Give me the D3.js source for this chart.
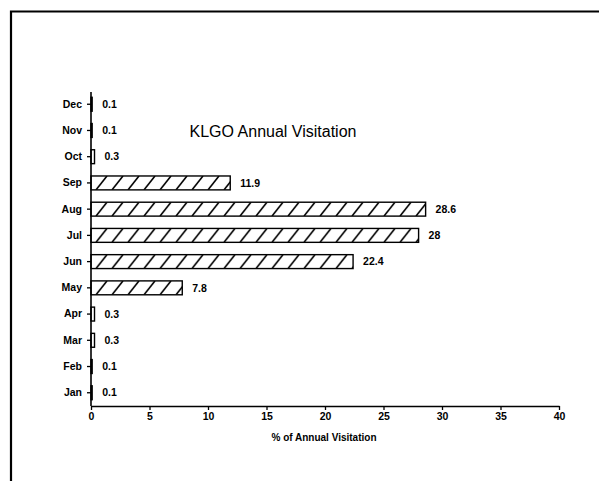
<!DOCTYPE html>
<html>
<head>
<meta charset="utf-8">
<script src="https://cdn.jsdelivr.net/npm/d3@7"></script>
<style>
  html, body { margin: 0; padding: 0; background: #fff; }
  svg { display: block; font-family: "Liberation Sans", Arial, Helvetica, sans-serif; }
</style>
</head>
<body>
<svg id="chart" width="599" height="481"></svg>
<script>
// Monthly share of annual visitation
const months = ["Jan", "Feb", "Mar", "Apr", "May", "Jun", "Jul", "Aug", "Sep", "Oct", "Nov", "Dec"];
const visitation = [0.1, 0.1, 0.3, 0.3, 7.8, 22.4, 28, 28.6, 11.9, 0.3, 0.1, 0.1];
const valueLabels = ["0.1", "0.1", "0.3", "0.3", "7.8", "22.4", "28", "28.6", "11.9", "0.3", "0.1", "0.1"];
const xTicks = [0, 5, 10, 15, 20, 25, 30, 35, 40];
const chartTitle = "KLGO Annual Visitation";
const xTitle = "% of Annual Visitation";

const rows = months.map((m, i) => ({ month: m, value: visitation[i], label: valueLabels[i], idx: i }));

const svg = d3.select("#chart");

// page frame (top and left rules)
svg.append("path")
  .attr("d", "M11,481 V11.5 H599")
  .attr("fill", "none")
  .attr("stroke", "#000")
  .attr("stroke-width", 2.2);

const x = d3.scaleLinear().domain([0, 40]).range([91, 559]);
const y = d3.scaleBand()
  .domain(months.slice().reverse())
  .range([91, 406])
  .paddingInner(0.47)
  .paddingOuter(0.24);

// diagonal hatch fill, one tile row per bar so every stroke spans the bar height
const defs = svg.append("defs");
const bh = y.bandwidth();
rows.forEach(d => {
  const p = defs.append("pattern")
    .attr("id", "hatch" + d.idx)
    .attr("patternUnits", "userSpaceOnUse")
    .attr("width", 16)
    .attr("height", bh)
    .attr("x", x(0) + 3)
    .attr("y", y(d.month));
  p.append("line")
    .attr("x1", 2).attr("y1", bh)
    .attr("x2", 13).attr("y2", 0)
    .attr("stroke", "#000")
    .attr("stroke-width", 1.6);
});

// bars
svg.append("g")
  .selectAll("rect")
  .data(rows)
  .join("rect")
  .attr("x", x(0))
  .attr("y", d => y(d.month))
  .attr("width", d => Math.max(0.5, x(d.value) - x(0)))
  .attr("height", bh)
  .attr("fill", d => `url(#hatch${d.idx})`)
  .attr("stroke", "#000")
  .attr("stroke-width", 1.4);

// value labels
svg.append("g")
  .selectAll("text")
  .data(rows)
  .join("text")
  .attr("x", d => x(d.value) + 10)
  .attr("y", d => y(d.month) + bh / 2)
  .attr("dy", "0.35em")
  .attr("font-size", 10.5)
  .attr("font-weight", "bold")
  .attr("fill", "#000")
  .text(d => d.label);

// axes
const yAxis = d3.axisLeft(y).tickSize(4).tickPadding(5);
const gy = svg.append("g")
  .attr("transform", `translate(${x(0)},0)`)
  .call(yAxis);
gy.select(".domain").attr("d", "M0,92V406").attr("stroke-width", 1.6);
gy.selectAll("text").attr("font-size", 10.5).attr("font-weight", "bold").attr("font-family", "Liberation Sans, Arial, sans-serif");
gy.selectAll(".tick line").attr("stroke-width", 1.3);

const xAxis = d3.axisBottom(x).tickValues(xTicks).tickSize(4).tickSizeOuter(0).tickPadding(3);
const gx = svg.append("g")
  .attr("transform", "translate(0,406)")
  .call(xAxis);
gx.select(".domain").attr("stroke-width", 1.6);
gx.selectAll("text").attr("font-size", 10.5).attr("font-weight", "bold").attr("font-family", "Liberation Sans, Arial, sans-serif");
gx.selectAll(".tick line").attr("stroke-width", 1.3);

// titles
svg.append("text")
  .attr("x", 273)
  .attr("y", 137)
  .attr("text-anchor", "middle")
  .attr("font-size", 16)
  .attr("fill", "#000")
  .text(chartTitle);

svg.append("text")
  .attr("x", 324)
  .attr("y", 441)
  .attr("text-anchor", "middle")
  .attr("font-size", 10)
  .attr("font-weight", "bold")
  .attr("fill", "#000")
  .text(xTitle);
</script>
</body>
</html>
